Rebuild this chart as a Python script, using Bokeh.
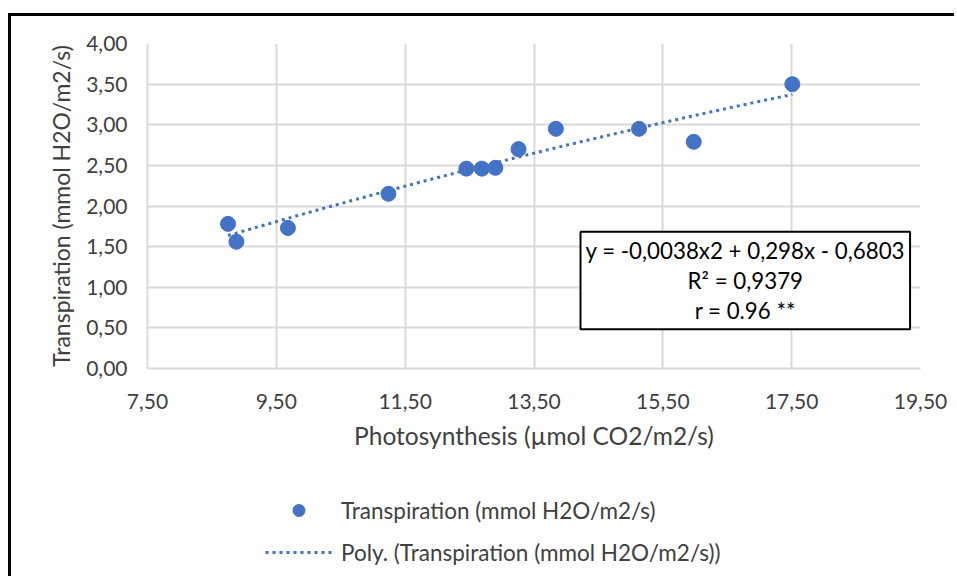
import numpy as np
from bokeh.plotting import figure
from bokeh.layouts import column
from bokeh.models import Range1d, FixedTicker, Label, Legend, LegendItem
from bokeh.embed import file_html
from bokeh.resources import INLINE

# ---- data ----
photosynthesis = [8.75, 8.88, 9.68, 11.24, 12.45, 12.69, 12.90, 13.26, 13.84, 15.13, 15.98, 17.51]
transpiration = [1.78, 1.56, 1.73, 2.15, 2.46, 2.46, 2.47, 2.70, 2.95, 2.95, 2.79, 3.50]
poly_coef = [-0.0038, 0.298, -0.6803]  # y = a x^2 + b x + c
x_ticks = [7.5, 9.5, 11.5, 13.5, 15.5, 17.5, 19.5]
x_tick_labels = ["7,50", "9,50", "11,50", "13,50", "15,50", "17,50", "19,50"]
y_ticks = [0.0, 0.5, 1.0, 1.5, 2.0, 2.5, 3.0, 3.5, 4.0]
y_tick_labels = ["0,00", "0,50", "1,00", "1,50", "2,00", "2,50", "3,00", "3,50", "4,00"]
x_title = "Photosynthesis (µmol CO2/m2/s)"
y_title = "Transpiration (mmol H2O/m2/s)"
series_name = "Transpiration (mmol H2O/m2/s)"
trend_name = "Poly. (Transpiration (mmol H2O/m2/s))"
equation_text = "y = -0,0038x2 + 0,298x - 0,6803\nR² = 0,9379\nr = 0.96 **"

FONT = "Lato"
BLUE = "#4472C4"
GRID = "#D9D9D9"
TXT = "#404040"
W = 943

p = figure(width=W, height=470, output_backend="svg", toolbar_location=None,
           x_range=Range1d(x_ticks[0], x_ticks[-1]), y_range=Range1d(y_ticks[0], y_ticks[-1]),
           min_border_left=136, min_border_right=34, min_border_top=27, min_border_bottom=118)
p.outline_line_color = None
p.background_fill_color = "white"

# axes
p.xaxis.ticker = FixedTicker(ticks=x_ticks)
p.yaxis.ticker = FixedTicker(ticks=y_ticks)
p.xaxis.major_label_overrides = {t: l for t, l in zip(x_ticks, x_tick_labels)}
p.yaxis.major_label_overrides = {t: l for t, l in zip(y_ticks, y_tick_labels)}
for ax in (p.xaxis, p.yaxis):
    ax.axis_line_color = GRID
    ax.axis_line_width = 2
    ax.major_tick_in = 0
    ax.major_tick_out = 0
    ax.minor_tick_line_color = None
    ax.major_label_text_font = FONT
    ax.major_label_text_font_size = "21px"
    ax.major_label_text_color = TXT
    ax.axis_label_text_font = FONT
    ax.axis_label_text_font_style = "normal"
    ax.axis_label_text_color = TXT
p.xaxis.axis_label = x_title
p.yaxis.axis_label = y_title
p.xaxis.axis_label_text_font_size = "24.5px"
p.yaxis.axis_label_text_font_size = "23px"
p.xaxis.major_label_standoff = 25
p.xaxis.axis_label_standoff = 9
p.yaxis.major_label_standoff = 20
p.yaxis.axis_label_standoff = 8

p.xgrid.grid_line_color = GRID
p.ygrid.grid_line_color = GRID
p.xgrid.grid_line_width = 2
p.ygrid.grid_line_width = 2

# trend line from the displayed polynomial
xs = np.linspace(min(photosynthesis), max(photosynthesis), 200)
ys = np.polyval(poly_coef, xs)
p.line(xs, ys, line_color=BLUE, line_width=3, line_dash="3 4")
p.scatter(photosynthesis, transpiration, size=15, fill_color=BLUE, line_color=BLUE)

# equation box
eq = Label(x=16.78, y=1.083, text=equation_text, text_align="center", text_baseline="middle",
           text_font=FONT, text_font_size="22.3px", text_color="black", text_line_height=1.12,
           border_line_color="black", border_line_width=2,
           background_fill_color="white", padding=5)
p.add_layout(eq)

# legend area (separate strip below the chart; its frame is aligned with the chart frame)
pl = figure(width=W, height=90, output_backend="svg", toolbar_location=None,
            x_axis_location=None, y_axis_location=None,
            x_range=Range1d(0, 1), y_range=Range1d(0, 1),
            min_border_left=0, min_border_right=0, min_border_top=0, min_border_bottom=0)
pl.outline_line_color = None
pl.xgrid.visible = False
pl.ygrid.visible = False
# off-range placeholder glyphs used only to draw the legend swatches
lg_pts = pl.scatter(x=[5], y=[5], size=15, fill_color=BLUE, line_color=BLUE)
lg_line = pl.line(x=[5, 6], y=[5, 5], line_color=BLUE, line_width=3, line_dash="3 4")
legend = Legend(items=[LegendItem(label=series_name, renderers=[lg_pts]),
                       LegendItem(label=trend_name, renderers=[lg_line])],
                location=(118, 9), orientation="vertical",
                glyph_width=67, glyph_height=30, label_standoff=9, spacing=12,
                padding=0, margin=0, border_line_color=None, background_fill_alpha=0,
                label_text_font=FONT, label_text_font_size="22.5px", label_text_color=TXT)
pl.add_layout(legend, "center")

layout = column(p, pl, spacing=0,
                styles={"border-left": "3px solid black", "border-top": "3px solid black",
                        "margin-top": "13px", "margin-left": "8px"})

open("out.html", "w").write(file_html(layout, INLINE))
